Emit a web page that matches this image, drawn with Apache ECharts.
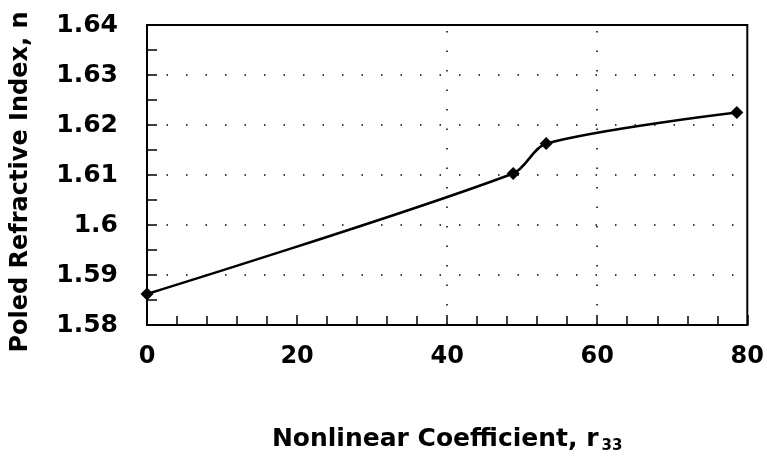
<!DOCTYPE html>
<html><head><meta charset="utf-8">
<script src="https://cdn.jsdelivr.net/npm/echarts@6/dist/echarts.min.js"></script>
<style>html,body{margin:0;padding:0;background:#fff}#c{width:767px;height:461px}</style>
</head><body><div id="c"></div>
<script>
const r33 = [0, 48.8, 53.2, 78.6];
const nIndex = [1.5862, 1.6103, 1.6163, 1.6225];
const xGridMarks = [40, 60];
const xTitle = 'Nonlinear Coefficient, r';
const xTitleSub = '33';
const yTitle = 'Poled Refractive Index, n';

const chart = echarts.init(document.getElementById('c'));
const font = '"DejaVu Sans", sans-serif';
chart.setOption({
  animation: false,
  backgroundColor: '#fff',
  grid: {left: 147, right: 18, top: 25, bottom: 136, show: true, borderColor: '#000', borderWidth: 2},
  xAxis: {
    type: 'value', min: 0, max: 80, interval: 20,
    axisLine: {show: true, onZero: false, lineStyle: {color: '#000', width: 2}},
    axisTick: {show: true, inside: true, length: 10, lineStyle: {color: '#000', width: 1.5}},
    minorTick: {show: true, splitNumber: 5, length: 9, lineStyle: {color: '#000', width: 1.5}},
    splitLine: {show: false},
    axisLabel: {color: '#000', fontFamily: font, fontWeight: 'bold', fontSize: 24, margin: 20},
    name: '{t|' + xTitle + '}{s|' + xTitleSub + '}',
    nameLocation: 'middle', nameGap: 100,
    nameTextStyle: {rich: {
      t: {fontFamily: font, fontWeight: 'bold', fontSize: 25, color: '#000'},
      s: {fontFamily: font, fontWeight: 'bold', fontSize: 15, color: '#000', verticalAlign: 'bottom', padding: [14, 0, 0, 3]}
    }}
  },
  yAxis: {
    type: 'value', min: 1.58, max: 1.64, interval: 0.01,
    axisLine: {show: true, onZero: false, lineStyle: {color: '#000', width: 2}},
    axisTick: {show: true, inside: true, length: 10, lineStyle: {color: '#000', width: 1.5}},
    minorTick: {show: true, splitNumber: 2, length: 10, lineStyle: {color: '#000', width: 1.5}},
    splitLine: {show: true, lineStyle: {color: '#000', width: 1.5, type: [1.5, 18]}},
    axisLabel: {color: '#000', fontFamily: font, fontWeight: 'bold', fontSize: 25, margin: 29},
    name: yTitle, nameLocation: 'middle', nameGap: 114, nameRotate: 90,
    nameTextStyle: {fontFamily: font, fontWeight: 'bold', fontSize: 24, color: '#000', padding: [0, 14, 0, 0]}
  },
  series: [{
    type: 'line',
    data: r33.map((x, i) => [x, nIndex[i]]),
    smooth: 0.3,
    symbol: 'diamond', symbolSize: 13,
    itemStyle: {color: '#000'},
    lineStyle: {color: '#000', width: 2.5},
    markLine: {
      silent: true, symbol: 'none', label: {show: false},
      lineStyle: {color: '#000', width: 1.5, type: [1.5, 18]},
      data: xGridMarks.map(v => ({xAxis: v}))
    },
    z: 5
  }]
});
</script></body></html>
